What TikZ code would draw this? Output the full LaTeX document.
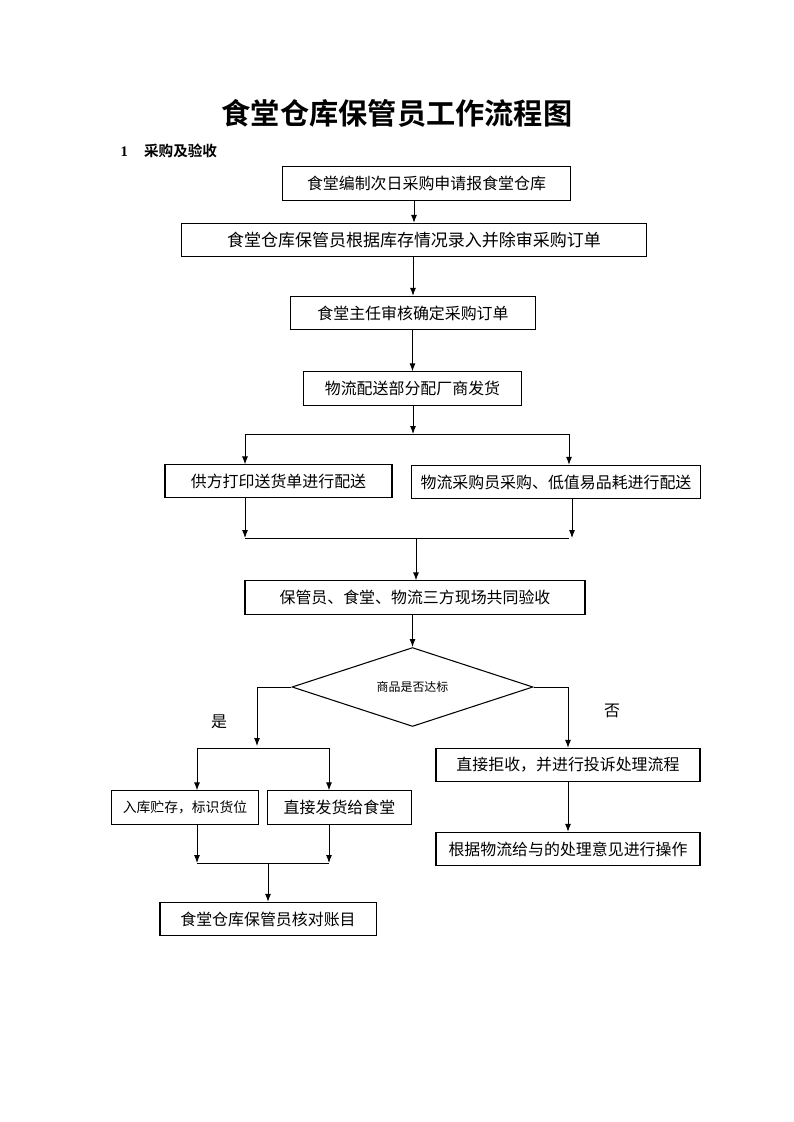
\documentclass[tikz,border=0pt]{standalone}
\usepackage{fontspec}
\setmainfont{Liberation Serif}
\newfontfamily\cjk[BoldFont={Noto Sans CJK SC Bold}]{Noto Sans CJK SC}
\usetikzlibrary{arrows,arrows.meta,positioning,shapes.geometric}

\begin{document}
\begin{tikzpicture}[x=0.02648cm,y=-0.02648cm,
  every node/.style={align=center,font=\cjk\fontsize{12}{14}\selectfont},
  process/.style={draw,line width=.8pt,inner sep=0pt,minimum height=.88cm},
  decision/.style={draw,line width=.8pt,shape=diamond,aspect=3,inner sep=0pt,
    minimum width=6.38cm,minimum height=2.09cm,font=\cjk\fontsize{9}{11}\selectfont},
  to/.style={-{Latex[length=6pt,width=4.5pt]},line width=.7pt},
  branch/.style={line width=.7pt}]

    \useasboundingbox (0,0) rectangle (793,1122);

    % title and section
    \node[font=\cjk\bfseries\fontsize{22}{26}\selectfont](title) at (397,113){食堂仓库保管员工作流程图};
    \node[anchor=west,font=\bfseries\fontsize{11}{13}\selectfont](sec) at (116,151)
        {1\hspace{1.1em}{\cjk 采购及验收}};

    % purchase chain
    \node[process,minimum width=7.6cm](apply) at (426.5,183.5){食堂编制次日采购申请报食堂仓库};
    \node[process,minimum width=12.29cm,font=\cjk\fontsize{12.8}{15}\selectfont](order) at (414,240)
        {食堂仓库保管员根据库存情况录入并除审采购订单};
    \node[process,minimum width=6.51cm](confirm) at (413,313){食堂主任审核确定采购订单};
    \node[process,minimum width=5.75cm](dispatch) at (412.5,388.5){物流配送部分配厂商发货};
    \node[process,minimum width=6.01cm,minimum height=.85cm](supplier) at (278.5,481){供方打印送货单进行配送};
    \node[process,minimum width=7.63cm](buyer) at (556,482){物流采购员采购、低值易品耗进行配送};
    \node[process,minimum width=9cm](check) at (415,597.5){保管员、食堂、物流三方现场共同验收};
    \node[decision](ok) at (412.5,687){商品是否达标};

    % yes branch
    \node[process,minimum width=3.87cm,font=\cjk\fontsize{10.4}{12}\selectfont](store) at (185,807.5)
        {入库贮存，标识货位};
    \node[process,minimum width=3.79cm](deliver) at (339.5,807.5){直接发货给食堂};
    \node[process,minimum width=5.72cm](account) at (268,919){食堂仓库保管员核对账目};

    % no branch
    \node[process,minimum width=6.99cm](reject) at (568,765){直接拒收，并进行投诉处理流程};
    \node[process,minimum width=6.99cm](handle) at (568,849){根据物流给与的处理意见进行操作};

    \node(yes) at (219,722){是};
    \node(no) at (612,711){否};

    % junctions
    \coordinate (split1) at (413,434);
    \coordinate (s1l) at (245,434);
    \coordinate (s1r) at (569,434);
    \coordinate (merge1) at (416,538);
    \coordinate (m1l) at (245,538);
    \coordinate (m1r) at (572,538);
    \coordinate (split2) at (257,746);
    \coordinate (s2l) at (197,748);
    \coordinate (s2r) at (329,748);
    \coordinate (merge2) at (268,863);
    \coordinate (m2l) at (197,863);
    \coordinate (m2r) at (329,863);

    \draw[to](order.north |- apply.south) -- (order.north);
    \draw[to](confirm.north |- order.south) -- (confirm.north);
    \draw[to](dispatch.north |- confirm.south) -- (dispatch.north);
    \draw[to](split1 |- dispatch.south) -- (split1);

    \draw[branch](s1l) -- (s1r);
    \draw[to](s1l) -- (s1l |- supplier.north);
    \draw[to](s1r) -- (s1r |- buyer.north);

    \draw[to](m1l |- supplier.south) -- (m1l);
    \draw[to](m1r |- buyer.south) -- (m1r);
    \draw[branch](m1l) -- (m1l -| s1r);
    \draw[to](merge1) -- (merge1 |- check.north);

    \draw[to](check.south -| ok.north) -- (ok.north);
    \draw[to](ok.west) -| (split2);
    \draw[to](ok.east) -| (reject.north);

    \draw[branch](s2l) -- (s2r);
    \draw[to](s2l) -- (s2l |- store.north);
    \draw[to](s2r) -- (s2r |- deliver.north);

    \draw[to](m2l |- store.south) -- (m2l);
    \draw[to](m2r |- deliver.south) -- (m2r);
    \draw[branch](m2l) -- (m2r);
    \draw[to](merge2) -- (account.north);

    \draw[to](reject.south) -- (handle.north);
\end{tikzpicture}
\end{document}
